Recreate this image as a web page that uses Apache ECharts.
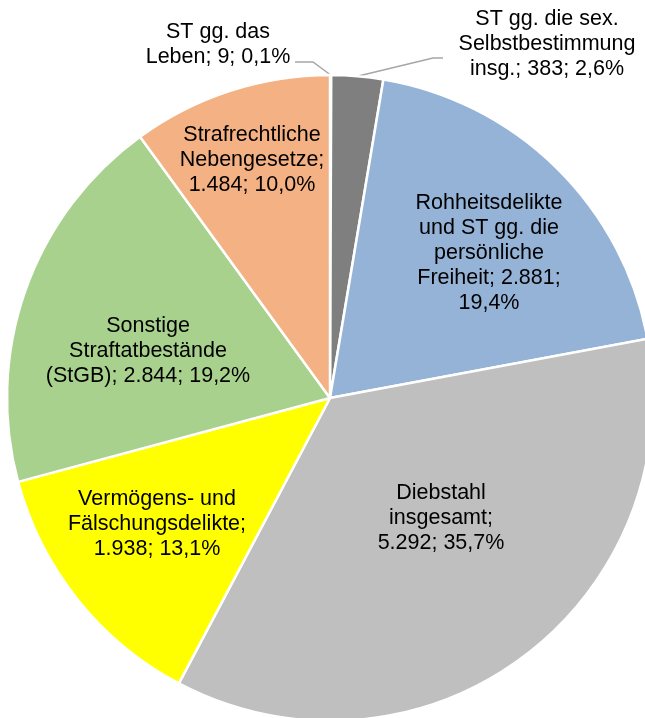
<!DOCTYPE html>
<html>
<head>
<meta charset="utf-8">
<script src="https://cdn.jsdelivr.net/npm/echarts@6/dist/echarts.min.js"></script>
<style>
html, body { margin: 0; padding: 0; background: #fff; }
#pie-chart { width: 645px; height: 718px; }
</style>
</head>
<body>
<div id="pie-chart"></div>
<script>
// data, clockwise from 12 o'clock
const categories = [
    'ST gg. das Leben',
    'ST gg. die sex. Selbstbestimmung insg.',
    'Rohheitsdelikte und ST gg. die persönliche Freiheit',
    'Diebstahl insgesamt',
    'Vermögens- und Fälschungsdelikte',
    'Sonstige Straftatbestände (StGB)',
    'Strafrechtliche Nebengesetze'
]
const values = [9, 383, 2881, 5292, 1938, 2844, 1484]
const colors = ['#1f497d', '#7f7f7f', '#95b3d7', '#bfbfbf', '#ffff00', '#a9d18e', '#f4b183']

// label layout (wrap width, centre of text block, leader bends)
const labelWidths = [155, 185, 160, 140, 190, 215, 155]
const labelCenters = [[218, 45], [547, 44], [489, 253], [441, 518], [157, 524], [148, 351], [252, 160]]
const leaderBends = {
    0: [[313, 62], [295, 62]],
    1: [[433, 58], [443, 58]]
}

const FONT_SIZE = 21.5
const FONT_FAMILY = '"Liberation Sans", Arial, sans-serif'
const total = values.reduce((a, b) => a + b, 0)

function deNum(v) {
    return String(v).replace(/\B(?=(\d{3})+(?!\d))/g, '.')
}
function dePct(v) {
    return (v / total * 100).toFixed(1).replace('.', ',') + '%'
}

const ctx = document.createElement('canvas').getContext('2d')
ctx.font = FONT_SIZE + 'px ' + FONT_FAMILY
function wrap(text, maxW) {
    const words = text.split(' ')
    const lines = []
    let cur = ''
    words.forEach(w => {
        const test = cur ? cur + ' ' + w : w
        if (cur && ctx.measureText(test).width > maxW) {
            lines.push(cur)
            cur = w
        } else {
            cur = test
        }
    })
    if (cur) lines.push(cur)
    return lines.join('\n')
}

const pieData = categories.map((name, i) => {
    const item = {
        name: name,
        value: values[i],
        itemStyle: { color: colors[i] }
    }
    if (leaderBends[i]) {
        item.label = { position: 'outside' }
        item.labelLine = { show: true }
    }
    return item
})

const chartDom = document.getElementById('pie-chart')
const myChart = echarts.init(chartDom)
const option = {
    animation: false,
    series: [
        {
            type: 'pie',
            center: [330, 398],
            radius: 323,
            startAngle: 90,
            clockwise: true,
            avoidLabelOverlap: false,
            itemStyle: {
                borderColor: '#ffffff',
                borderWidth: 2.5
            },
            label: {
                show: true,
                position: 'inside',
                color: '#000000',
                fontFamily: FONT_FAMILY,
                fontSize: FONT_SIZE,
                lineHeight: 25,
                align: 'center',
                formatter: function (p) {
                    const txt = p.name + '; ' + deNum(p.value) + '; ' + dePct(p.value)
                    return wrap(txt, labelWidths[p.dataIndex])
                }
            },
            labelLine: {
                show: false,
                lineStyle: { color: '#a6a6a6', width: 1.5 }
            },
            labelLayout: function (params) {
                const i = params.dataIndex
                const c = labelCenters[i]
                const out = { x: c[0], y: c[1], align: 'center', verticalAlign: 'middle' }
                if (leaderBends[i]) {
                    let start
                    if (params.labelLinePoints && params.labelLinePoints.length) {
                        start = params.labelLinePoints[0]
                    } else {
                        start = [330, 76]
                    }
                    out.labelLinePoints = [start].concat(leaderBends[i])
                }
                return out
            },
            data: pieData
        }
    ]
}
myChart.setOption(option)
</script>
</body>
</html>
